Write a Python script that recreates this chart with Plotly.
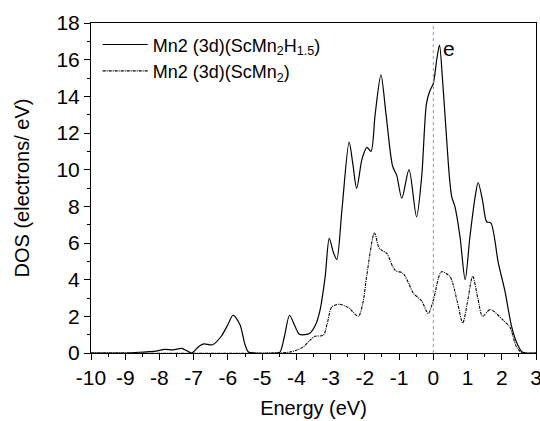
import plotly.graph_objects as go

# Solid: Mn2 (3d)(ScMn2H1.5)
energy_h = [-10, -9, -8.6, -8.3, -8.1, -7.85, -7.6, -7.35, -7.2, -7.05, -6.85, -6.7, -6.45, -6.2,
            -6.0, -5.85, -5.65, -5.5, -5.4, -5.2, -4.6, -4.48, -4.35, -4.2, -4.05, -3.91, -3.75,
            -3.62, -3.45, -3.31, -3.16, -3.04, -2.92, -2.82, -2.67, -2.46, -2.35, -2.24, -2.08,
            -1.94, -1.82, -1.70, -1.53, -1.38, -1.19, -1.07, -0.92, -0.71, -0.49, -0.34, -0.2,
            -0.1, 0.0, 0.1, 0.18, 0.27, 0.37, 0.47, 0.54, 0.63, 0.78, 0.93, 1.07, 1.22, 1.31,
            1.44, 1.56, 1.68, 1.9, 2.09, 2.29, 2.45, 2.6, 3.0]
dos_h = [0, 0, 0.04, 0.07, 0.1, 0.2, 0.17, 0.25, 0.12, 0.0, 0.36, 0.5, 0.45, 0.9,
         1.55, 2.06, 1.55, 0.45, 0.05, 0, 0, 0.05, 0.9, 2.06, 1.5, 1.02, 1.0,
         1.06, 1.5, 2.33, 4.15, 6.25, 5.5, 5.1, 7.8, 11.5, 10.3, 8.98, 10.6,
         11.22, 11.0, 13.0, 15.17, 13.0, 10.2, 9.7, 8.44, 10.0, 7.43, 9.6, 13.6,
         14.3, 14.7, 16.0, 16.8, 14.9, 12.2, 9.6, 8.5, 8.0, 6.34, 4.0, 6.34, 8.5, 9.3,
         8.3, 7.16, 7.1, 4.9, 3.4, 1.42, 0.5, 0.05, 0]

# Dotted: Mn2 (3d)(ScMn2)
energy_0 = [-10, -4.6, -4.19, -4.0, -3.8, -3.6, -3.45, -3.21, -3.1, -2.97, -2.77, -2.48, -2.19,
            -2.05, -1.95, -1.72, -1.6, -1.51, -1.36, -1.12, -0.88, -0.72, -0.58, -0.34, -0.15,
            0.0, 0.24, 0.49, 0.7, 0.86, 1.0, 1.15, 1.3, 1.44, 1.66, 2.04, 2.24, 2.43, 2.6, 3.0]
dos_0 = [0, 0, 0.05, 0.15, 0.33, 0.7, 0.91, 0.97, 1.6, 2.5, 2.66, 2.48, 2.0,
         2.8, 4.15, 6.56, 5.8, 5.6, 5.43, 4.52, 4.34, 3.8, 3.25, 2.84, 2.15,
         2.88, 4.43, 4.15, 2.8, 1.64, 2.8, 4.19, 3.0, 2.0, 2.37, 1.79, 1.4, 0.33, 0, 0]

x_ticks = list(range(-10, 4))
y_ticks = list(range(0, 19, 2))

font = "Liberation Sans, Arial, sans-serif"

fig = go.Figure()
fig.add_trace(go.Scatter(x=energy_h, y=dos_h, mode="lines", legendgroup="a",
                         line=dict(color="black", width=1.2, shape="spline", smoothing=0.8),
                         name="Mn2 (3d)(ScMn<sub>2</sub>H<sub>1.5</sub>)"))
fig.add_trace(go.Scatter(x=energy_0, y=dos_0, mode="lines", legendgroup="b",
                         line=dict(color="black", width=1.1, shape="spline", smoothing=0.8,
                                   dash="3px,1px,1px,1px"),
                         name="Mn2 (3d)(ScMn<sub>2</sub>)"))
fig.add_vline(x=0, line=dict(color="#999999", width=1, dash="dot"))
fig.add_annotation(x=0.22, y=16.6, text="e", showarrow=False, xanchor="left",
                   font=dict(size=21, color="black", family=font))

fig.update_layout(
    width=540, height=421,
    margin=dict(l=91, r=4, t=23, b=68),
    plot_bgcolor="white", paper_bgcolor="white",
    font=dict(family=font, color="black", size=20),
    showlegend=True,
    legend=dict(x=0.015, y=0.99, xanchor="left", yanchor="top",
                bgcolor="rgba(0,0,0,0)", font=dict(size=18, family=font),
                tracegroupgap=0, itemwidth=45),
    xaxis=dict(range=[-10, 3], tickmode="array", tickvals=x_ticks,
               ticktext=[str(v) for v in x_ticks], ticklabeloverflow="allow",
               automargin=False,
               ticks="outside", ticklen=6, tickwidth=1, tickcolor="black",
               minor=dict(dtick=0.5, ticks="outside", ticklen=3, tickcolor="black"),
               showline=True, linecolor="black", linewidth=1, mirror=True,
               showgrid=False, zeroline=False,
               title=dict(text="Energy (eV)", font=dict(size=20), standoff=12),
               tickfont=dict(size=21)),
    yaxis=dict(range=[0, 18], tickmode="array", tickvals=y_ticks,
               automargin=False,
               ticks="outside", ticklen=6, tickwidth=1, tickcolor="black",
               minor=dict(dtick=1, ticks="outside", ticklen=3, tickcolor="black"),
               showline=True, linecolor="black", linewidth=1, mirror=True,
               showgrid=False, zeroline=False,
               title=dict(text="DOS (electrons/ eV)", font=dict(size=20), standoff=21),
               tickfont=dict(size=21)),
)
fig.write_html("out.html", config={"displayModeBar": False},
               post_script="document.body.style.margin='0';")
